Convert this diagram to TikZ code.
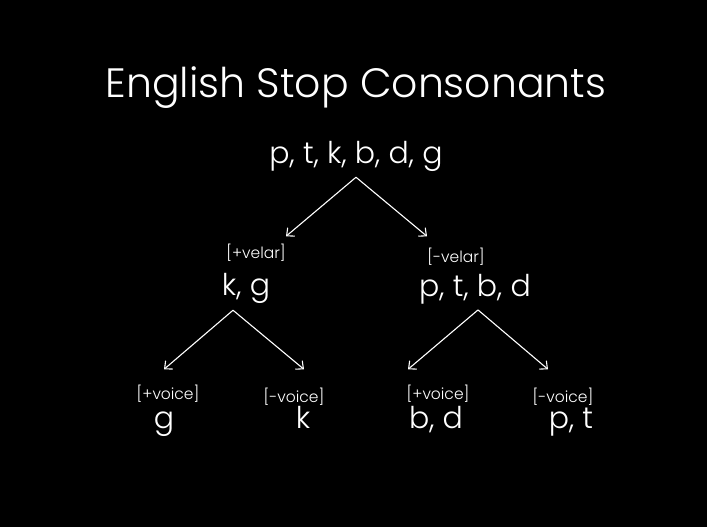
\documentclass[tikz,border=0pt]{standalone}
\usepackage{fontspec}
\setmainfont{Poppins Light}
\usetikzlibrary{arrows.meta, positioning}

\begin{document}
\begin{tikzpicture}[
        x=1pt, y=-1pt,
        set/.style={font=\fontsize{30}{30}\selectfont, text=white, inner sep=0pt, anchor=base},
        feat/.style={font=\fontsize{15.5}{15.5}\selectfont, text=white, inner sep=0pt, anchor=base},
        link/.style={-{Straight Barb[length=6pt, width=11pt]}, draw=white, line width=1.1pt}
    ]
        \fill[black] (0,0) rectangle (707,527);

        % Title
        \node[set, font=\fontsize{41}{41}\selectfont] (title) at (356,98) {English Stop Consonants};

        % All stops
        \node[set] (all) at (356,163) {p, t, k, b, d, g};

        % Place split
        \node[feat] (velar) at (256,258) {[+velar]};
        \node[set] (kg) at (246,295) {k, g};
        \node[feat] (nonvelar) at (456,262) {[-velar]};
        \node[set] (ptbd) at (475,296) {p, t, b, d};

        % Voicing split
        \node[feat] (lvoice) at (168,399) {[+voice]};
        \node[set] (g) at (164,428) {g};
        \node[feat] (lnovoice) at (294,402) {[-voice]};
        \node[set] (k) at (303,428) {k};
        \node[feat] (rvoice) at (438,399) {[+voice]};
        \node[set] (bd) at (436,428) {b, d};
        \node[feat] (rnovoice) at (563,402) {[-voice]};
        \node[set] (pt) at (571,428) {p, t};

        % Branches
        \draw[link] ([yshift=-6pt]all.south) -- ([xshift=30pt, yshift=7pt]velar.north);
        \draw[link] ([yshift=-6pt]all.south) -- ([xshift=-29pt, yshift=11pt]nonvelar.north);
        \draw[link] ([xshift=-13pt, yshift=-7pt]kg.south) -- ([xshift=-4pt, yshift=15pt]lvoice.north);
        \draw[link] ([xshift=-13pt, yshift=-7pt]kg.south) -- ([xshift=10pt, yshift=18pt]lnovoice.north);
        \draw[link] ([xshift=3pt, yshift=-6pt]ptbd.south) -- ([xshift=-30pt, yshift=15pt]rvoice.north);
        \draw[link] ([xshift=3pt, yshift=-6pt]ptbd.south) -- ([xshift=-15pt, yshift=18pt]rnovoice.north);
    \end{tikzpicture}
\end{document}
